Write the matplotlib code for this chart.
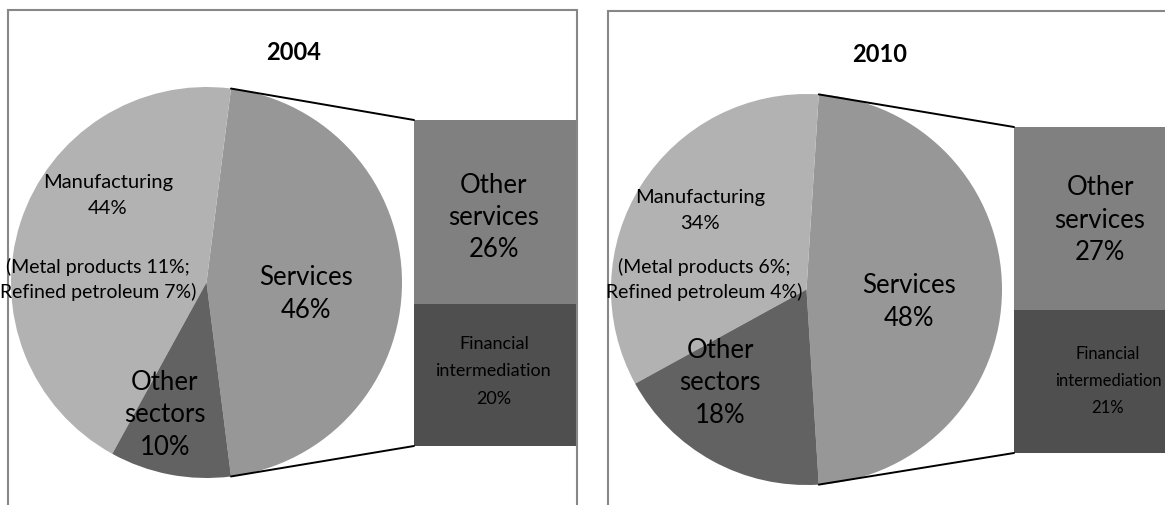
import numpy as np
import matplotlib
matplotlib.use("Agg")
import matplotlib.pyplot as plt
from matplotlib.patches import Rectangle, ConnectionPatch

# ---- data -------------------------------------------------------------
years = ["2004", "2010"]
sectors = ["Services", "Manufacturing", "Other sectors"]
shares_2004 = [46, 44, 10]
shares_2010 = [48, 34, 18]
service_parts = ["Financial intermediation", "Other services"]
services_2004 = [20, 26]
services_2010 = [21, 27]
metal_products = [11, 6]
refined_petroleum = [7, 4]

sector_colors = ["#979797", "#b2b2b2", "#626262"]
service_colors = ["#4f4f4f", "#808080"]

# ---- canvas -------------------------------------------------------------
W, H = 1165, 506
fig = plt.figure(figsize=(W / 100, H / 100), dpi=100)
fig.patch.set_facecolor("white")
FONT = ["Lato", "DejaVu Sans"]


def fx(px):
    return px / W


def fy(py):
    return 1 - py / H


# layout of each panel in pixels (x, y measured from the top-left corner);
# text entries hold (x, y of first line, line spacing, font size)
panels = [
    dict(box=(8, 11, 577), pie=(206.5, 283.5, 195.5), bar=(414, 121, 163, 326),
         title=(294, 50, 0, 17), manu=(108, 181, 26, 14.5), detail=(98, 265, 25, 14),
         serv=(306, 275, 33, 18.5), other=(165, 380, 32.5, 18.5),
         osv=(494, 183, 32, 18.5), fin=(494, 343, 27, 13)),
    dict(box=(608, 12, 1200), pie=(806.5, 290.5, 195.5), bar=(1014, 128, 192, 326),
         title=(880, 52, 0, 17), manu=(700, 196, 26, 14.5), detail=(704, 265, 25, 14),
         serv=(909, 283, 33, 18.5), other=(720, 348, 32.5, 18.5),
         osv=(1100, 185, 32.5, 18.5), fin=(1108, 353, 27, 12)),
]

all_shares = [shares_2004, shares_2010]
all_services = [services_2004, services_2010]


def put(spec, lines, weight="normal"):
    x, y0, step, size = spec
    for k, s in enumerate(lines):
        fig.text(fx(x), fy(y0 + k * step), s, ha="center", va="center_baseline",
                 fontsize=size, family=FONT, weight=weight, color="black", zorder=6)


for i, lay in enumerate(panels):
    shares = all_shares[i]
    parts = all_services[i]

    # frame around the chart
    bx0, by0, bx1 = lay["box"]
    fig.add_artist(Rectangle((fx(bx0), fy(H + 20)), fx(bx1 - bx0), (H + 20 - by0) / H,
                             transform=fig.transFigure, fill=False,
                             edgecolor="#878787", linewidth=1.5, zorder=5))

    # pie with the services wedge centred on the right side
    cx, cy, r = lay["pie"]
    pax = fig.add_axes([fx(cx - r), fy(cy + r), 2 * r / W, 2 * r / H])
    half = shares[0] * 360 / 100 / 2
    pax.pie(shares, colors=sector_colors, startangle=-half, counterclock=True,
            radius=1, wedgeprops=dict(linewidth=0))
    pax.set_xlim(-1, 1)
    pax.set_ylim(-1, 1)
    pax.axis("off")

    # stacked bar breaking down services
    x0, top, bw, bh = lay["bar"]
    bax = fig.add_axes([fx(x0), fy(top + bh), bw / W, bh / H])
    bottoms = np.concatenate([[0], np.cumsum(parts)[:-1]])
    bax.bar([0] * len(parts), parts, bottom=bottoms, width=1,
            color=service_colors, linewidth=0)
    bax.set_xlim(-0.5, 0.5)
    bax.set_ylim(0, sum(parts))
    bax.axis("off")

    # connector lines from the services wedge to the bar
    th = np.deg2rad(half)
    for sgn, yb in ((1, sum(parts)), (-1, 0)):
        con = ConnectionPatch(xyA=(np.cos(th), sgn * np.sin(th)), coordsA=pax.transData,
                              xyB=(-0.5, yb), coordsB=bax.transData,
                              color="black", linewidth=1.4, zorder=4)
        fig.add_artist(con)

    # texts
    put(lay["title"], [years[i]], weight="bold")
    put(lay["manu"], [sectors[1], f"{shares[1]}%"])
    put(lay["detail"], [f"(Metal products {metal_products[i]}%;",
                        f"Refined petroleum {refined_petroleum[i]}%)"])
    put(lay["serv"], [sectors[0], f"{shares[0]}%"])
    put(lay["other"], ["Other", "sectors", f"{shares[2]}%"])
    put(lay["osv"], ["Other", "services", f"{parts[1]}%"])
    put(lay["fin"], ["Financial", "intermediation", f"{parts[0]}%"])

fig.savefig("out.png", dpi=100, facecolor="white")
